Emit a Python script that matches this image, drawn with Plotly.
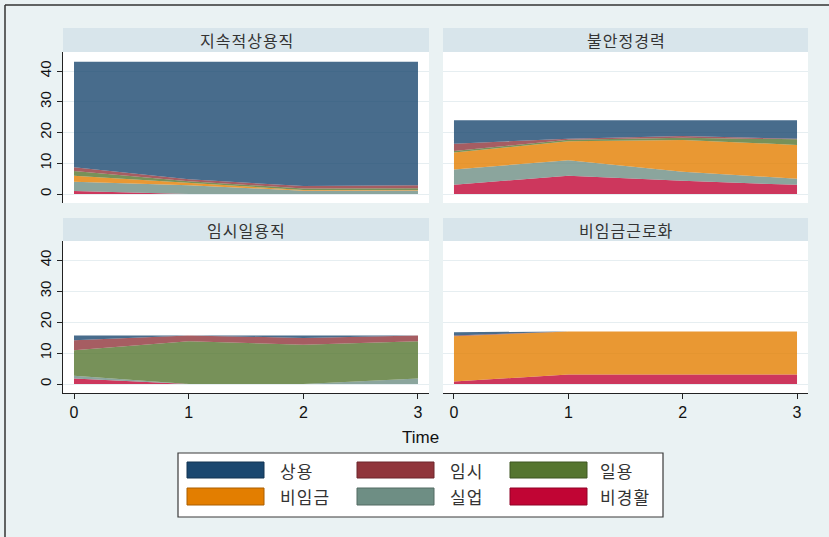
import plotly.graph_objects as go

W, H = 829, 537

# Time points and panel titles
time = [0, 1, 2, 3]
panels = ["지속적상용직", "불안정경력", "임시일용직", "비임금근로화"]

# Series, bottom of the stack first
series = ["비경활", "실업", "비임금", "일용", "임시", "상용"]
colors = {
    "상용": (26, 71, 111),
    "임시": (144, 53, 59),
    "일용": (85, 117, 47),
    "비임금": (227, 126, 0),
    "실업": (110, 142, 132),
    "비경활": (193, 5, 52),
}

# Values per panel (one list per series, over time 0..3)
p1_비경활 = [1.0, 0.0, 0.0, 0.0]
p1_실업 = [3.0, 2.9, 1.1, 1.2]
p1_비임금 = [2.0, 0.8, 0.2, 0.1]
p1_일용 = [1.5, 0.5, 0.5, 0.6]
p1_임시 = [1.2, 0.6, 0.8, 1.0]
p1_상용 = [34.3, 38.2, 40.4, 40.1]

p2_비경활 = [3.0, 6.0, 4.3, 3.0]
p2_실업 = [5.0, 5.0, 3.0, 2.0]
p2_비임금 = [5.5, 6.2, 10.3, 11.0]
p2_일용 = [0.5, 0.5, 0.7, 1.8]
p2_임시 = [2.4, 0.3, 0.6, 0.2]
p2_상용 = [7.6, 6.0, 5.1, 6.0]

p3_비경활 = [1.8, 0.0, 0.0, 0.0]
p3_실업 = [0.9, 0.0, 0.0, 1.8]
p3_비임금 = [0.0, 0.0, 0.0, 0.0]
p3_일용 = [8.2, 13.8, 12.7, 12.0]
p3_임시 = [3.2, 1.9, 2.2, 1.9]
p3_상용 = [1.6, 0.0, 0.8, 0.0]

p4_비경활 = [0.8, 3.1, 3.1, 3.1]
p4_실업 = [0.0, 0.0, 0.0, 0.0]
p4_비임금 = [14.6, 13.9, 13.9, 13.9]
p4_일용 = [0.0, 0.0, 0.0, 0.0]
p4_임시 = [0.3, 0.0, 0.0, 0.0]
p4_상용 = [1.0, 0.0, 0.0, 0.0]

panel_data = [
    [p1_비경활, p1_실업, p1_비임금, p1_일용, p1_임시, p1_상용],
    [p2_비경활, p2_실업, p2_비임금, p2_일용, p2_임시, p2_상용],
    [p3_비경활, p3_실업, p3_비임금, p3_일용, p3_임시, p3_상용],
    [p4_비경활, p4_실업, p4_비임금, p4_일용, p4_임시, p4_상용],
]

y_ticks = [0, 10, 20, 30, 40]
x_ticks = [0, 1, 2, 3]

BG = "#eaf2f3"
STRIP = "#d8e5eb"
GRID = "#e6eef1"
KFONT = "Noto Sans CJK KR"
LFONT = "Liberation Sans"


def px_x(v):
    return v / W


def px_y(v):
    return 1 - v / H


def spaced(s):
    # widen the Hangul labels with hair spaces between syllables
    return "\u200a".join(s)


# Plot regions in pixels: (left, right, top, bottom)
regions = [
    (63, 429, 52, 203),
    (443, 808, 52, 203),
    (63, 429, 241, 393),
    (443, 808, 241, 393),
]
strips = [(28, 52), (28, 52), (218, 241), (218, 241)]

fig = go.Figure()

for i, vals in enumerate(panel_data):
    n = i + 1
    xa = "x" if n == 1 else f"x{n}"
    ya = "y" if n == 1 else f"y{n}"
    for name, v in zip(series, vals):
        r, g, b = colors[name]
        fig.add_trace(go.Scatter(
            x=time, y=v, mode="lines", stackgroup=f"p{n}",
            line=dict(width=0, color=f"rgba({r},{g},{b},0.8)"),
            fillcolor=f"rgba({r},{g},{b},0.8)",
            name=name, showlegend=False, hoverinfo="skip",
            xaxis=xa, yaxis=ya,
        ))

layout = dict(
    width=W, height=H,
    margin=dict(l=0, r=0, t=0, b=0),
    paper_bgcolor=BG, plot_bgcolor="white",
    showlegend=False,
)

shapes = []
annotations = []

for i, (l, r, t, b) in enumerate(regions):
    n = i + 1
    xkey = "xaxis" if n == 1 else f"xaxis{n}"
    ykey = "yaxis" if n == 1 else f"yaxis{n}"
    bottom_row = i >= 2
    left_col = i % 2 == 0
    layout[xkey] = dict(
        domain=[px_x(l), px_x(r)], range=[-0.096, 3.096],
        anchor="y" if n == 1 else f"y{n}",
        tickvals=x_ticks, showgrid=False, zeroline=False,
        showline=bottom_row, linecolor="#222", linewidth=1,
        ticks="outside" if bottom_row else "", ticklen=5, tickcolor="#222",
        showticklabels=bottom_row,
        tickfont=dict(family=LFONT, size=16, color="#111"),
        fixedrange=True,
    )
    layout[ykey] = dict(
        domain=[px_y(b), px_y(t)], range=[-2.9, 46.2],
        anchor="x" if n == 1 else f"x{n}",
        tickvals=y_ticks, showgrid=True, gridcolor=GRID, gridwidth=1,
        zeroline=False,
        showline=left_col, linecolor="#222", linewidth=1,
        ticks="outside" if left_col else "", ticklen=5, tickcolor="#222",
        showticklabels=left_col, tickangle=-90,
        tickfont=dict(family=LFONT, size=15, color="#111"),
        fixedrange=True,
    )
    st, sb = strips[i]
    shapes.append(dict(
        type="rect", xref="paper", yref="paper",
        x0=px_x(l), x1=px_x(r), y0=px_y(sb), y1=px_y(st),
        fillcolor=STRIP, line=dict(width=0), layer="below",
    ))
    annotations.append(dict(
        text=spaced(panels[i]), xref="paper", yref="paper",
        x=px_x((l + r) / 2), y=px_y((st + sb) / 2),
        xanchor="center", yanchor="middle", showarrow=False,
        font=dict(family=KFONT, size=16, color="#333"),
    ))

# x-axis title
annotations.append(dict(
    text="Time", xref="paper", yref="paper",
    x=px_x(420), y=px_y(437), xanchor="center", yanchor="middle",
    showarrow=False, font=dict(family=LFONT, size=17, color="#111"),
))

# Legend box with two rows of three entries
shapes.append(dict(
    type="rect", xref="paper", yref="paper",
    x0=px_x(178), x1=px_x(663), y0=px_y(517), y1=px_y(453),
    fillcolor="white", line=dict(color="#3a3a3a", width=1.2),
))
legend_order = ["상용", "임시", "일용", "비임금", "실업", "비경활"]
col_x = [187, 357, 510]
text_x = [278, 448, 598]
row_y = [(462, 478), (488, 505)]
for k, name in enumerate(legend_order):
    row, col = divmod(k, 3)
    r, g, b = colors[name]
    y0, y1 = row_y[row]
    shapes.append(dict(
        type="rect", xref="paper", yref="paper",
        x0=px_x(col_x[col]), x1=px_x(col_x[col] + 77),
        y0=px_y(y1), y1=px_y(y0),
        fillcolor=f"rgb({r},{g},{b})",
        line=dict(color=f"rgb({int(r*0.75)},{int(g*0.75)},{int(b*0.75)})", width=1),
    ))
    annotations.append(dict(
        text=spaced(name), xref="paper", yref="paper",
        x=px_x(text_x[col]), y=px_y((y0 + y1) / 2),
        xanchor="left", yanchor="middle", showarrow=False,
        font=dict(family=KFONT, size=17, color="#333"),
    ))

# Outer frame lines
shapes.append(dict(type="line", xref="paper", yref="paper",
                   x0=px_x(5), x1=px_x(5), y0=0, y1=px_y(5),
                   line=dict(color="#333", width=1.5)))
shapes.append(dict(type="line", xref="paper", yref="paper",
                   x0=px_x(5), x1=1, y0=px_y(5), y1=px_y(5),
                   line=dict(color="#333", width=1.5)))

layout["shapes"] = shapes
layout["annotations"] = annotations
fig.update_layout(**layout)

fig.write_html("out.html")
